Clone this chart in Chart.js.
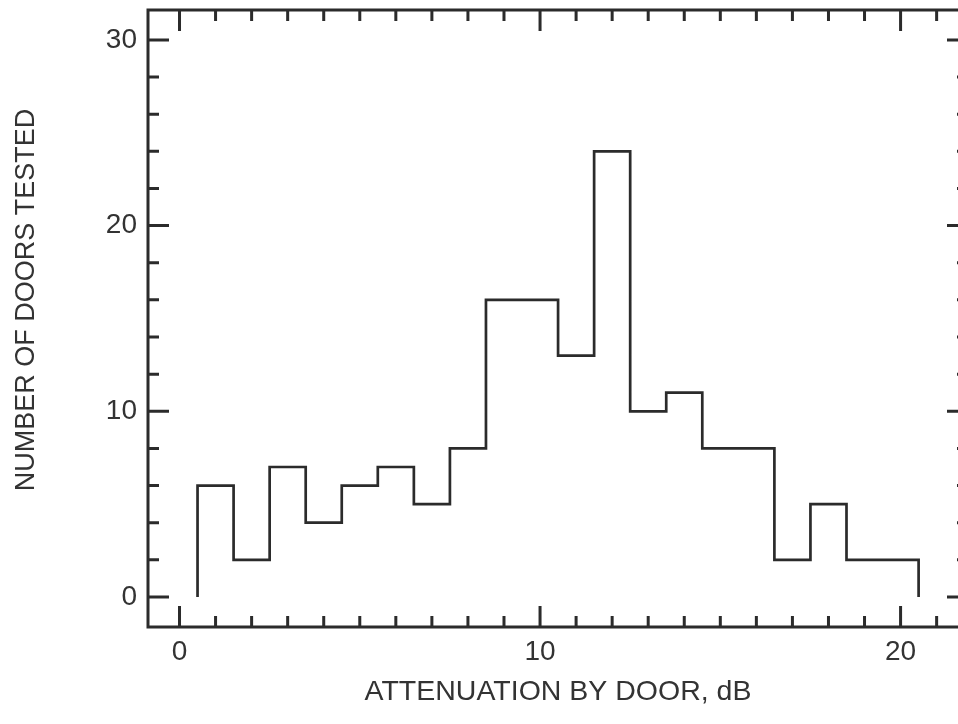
<!DOCTYPE html>
<html>
<head>
<meta charset="utf-8">
<title>Attenuation by door</title>
<script src="https://cdn.jsdelivr.net/npm/chart.js@4.4.1/dist/chart.umd.min.js"></script>
<style>
    html, body { margin: 0; padding: 0; background: #fff; overflow: hidden; }
    #box { width: 970px; height: 724px; }
</style>
</head>
<body>
<div id="box"><canvas id="histogram"></canvas></div>
<script>
// bin centres (dB) and number of doors in each bin
const attenuation = [1, 2, 3, 4, 5, 6, 7, 8, 9, 10, 11, 12, 13, 14, 15, 16, 17, 18, 19, 20];
const doors = [6, 2, 7, 4, 6, 7, 5, 8, 16, 16, 13, 24, 10, 11, 8, 8, 2, 5, 2, 2];
const binWidth = 1;

const xTickLabels = [0, 10, 20];
const yTickLabels = [0, 10, 20, 30];
const xMinorStep = 1;
const yMinorStep = 2;

const xTitle = "ATTENUATION BY DOOR, dB";
const yTitle = "NUMBER OF DOORS TESTED";

const ink = "#2b2b2b";
const textInk = "#333";
const fontFamily = "'Liberation Sans', Arial, Helvetica, sans-serif";

// outline of the histogram as a stepped line
function histogramOutline() {
    const pts = [{ x: attenuation[0] - binWidth / 2, y: 0 }];
    attenuation.forEach((c, i) => pts.push({ x: c - binWidth / 2, y: doors[i] }));
    pts.push({ x: attenuation[attenuation.length - 1] + binWidth / 2, y: 0 });
    return pts;
}

const frameAndTicks = {
    id: "frameAndTicks",
    afterDraw(chart) {
        const { ctx, chartArea: a, scales: { x, y } } = chart;
        ctx.save();
        ctx.strokeStyle = ink;
        ctx.lineWidth = 3;
        ctx.strokeRect(a.left, a.top, a.right - a.left, a.bottom - a.top);

        ctx.beginPath();
        for (let v = Math.ceil(x.min); v <= x.max; v += xMinorStep) {
            const px = x.getPixelForValue(v);
            const len = xTickLabels.includes(v) ? 21 : 11;
            ctx.moveTo(px, a.bottom);
            ctx.lineTo(px, a.bottom - len);
            ctx.moveTo(px, a.top);
            ctx.lineTo(px, a.top + len);
        }
        for (let v = 0; v <= y.max; v += yMinorStep) {
            const py = y.getPixelForValue(v);
            const len = yTickLabels.includes(v) ? 21 : 11;
            ctx.moveTo(a.left, py);
            ctx.lineTo(a.left + len, py);
            ctx.moveTo(a.right, py);
            ctx.lineTo(a.right - len, py);
        }
        ctx.stroke();

        // y axis title, drawn by hand so it can sit a bit above the centre
        ctx.translate(27, 300);
        ctx.rotate(-Math.PI / 2);
        ctx.fillStyle = textInk;
        ctx.font = "27px " + fontFamily;
        ctx.textAlign = "center";
        ctx.textBaseline = "middle";
        ctx.fillText(yTitle, 0, 0);
        ctx.restore();
    }
};

document.addEventListener("DOMContentLoaded", function () {
    const canvas = document.getElementById("histogram");

    new Chart(canvas.getContext("2d"), {
        type: "line",
        data: {
            datasets: [
                {
                    label: "Doors",
                    data: histogramOutline(),
                    stepped: "before",
                    borderColor: ink,
                    borderWidth: 2.7,
                    pointRadius: 0,
                    fill: false
                }
            ]
        },
        options: {
            responsive: true,
            maintainAspectRatio: false,
            animation: false,
            events: [],
            layout: { padding: { top: 10, right: 2, left: 0, bottom: 0 } },
            plugins: {
                legend: { display: false },
                tooltip: { enabled: false }
            },
            scales: {
                x: {
                    type: "linear",
                    min: -0.874,
                    max: 21.87,
                    grid: { display: false, drawTicks: false },
                    border: { display: false },
                    afterBuildTicks: function (scale) {
                        scale.ticks = xTickLabels.map(v => ({ value: v }));
                    },
                    afterFit: function (scale) {
                        scale.height = 97;
                        scale.paddingLeft = 0;
                        scale.paddingRight = 0;
                    },
                    ticks: {
                        color: textInk,
                        font: { family: fontFamily, size: 28 },
                        padding: 8,
                        maxRotation: 0
                    },
                    title: {
                        display: true,
                        text: xTitle,
                        color: textInk,
                        font: { family: fontFamily, size: 28.5 },
                        padding: { top: 0, bottom: 15 }
                    }
                },
                y: {
                    type: "linear",
                    min: -1.616,
                    max: 31.61,
                    grid: { display: false, drawTicks: false },
                    border: { display: false },
                    afterBuildTicks: function (scale) {
                        scale.ticks = yTickLabels.map(v => ({ value: v }));
                    },
                    afterFit: function (scale) {
                        scale.width = 148;
                        scale.paddingTop = 0;
                        scale.paddingBottom = 0;
                    },
                    ticks: {
                        color: textInk,
                        font: { family: fontFamily, size: 28 },
                        padding: 11
                    }
                }
            }
        },
        plugins: [frameAndTicks]
    });
});
</script>
</body>
</html>
